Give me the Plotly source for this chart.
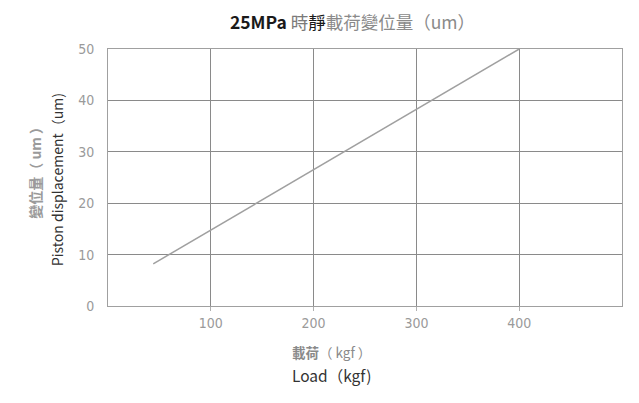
import plotly.graph_objects as go

load_kgf = [44, 400]
displacement_um = [8.2, 50]
x_ticks = [100, 200, 300, 400]
y_ticks = [0, 10, 20, 30, 40, 50]

grid = "#8a8a8a"
tickfont = dict(family="Liberation Sans Narrow, DejaVu Sans Condensed, sans-serif", size=14, color="#9a9a9a")

fig = go.Figure()
fig.add_trace(go.Scatter(x=load_kgf, y=displacement_um, mode="lines",
                         line=dict(color="#a0a0a0", width=1.5), showlegend=False))

fig.update_layout(
    width=631, height=395,
    margin=dict(l=100, r=17, t=41, b=97),
    paper_bgcolor="white", plot_bgcolor="white",
    title=dict(
        text=("<b>25MPa</b> <span style='color:#7a7a7a'>時</span>靜"
              "<span style='color:#8a8a8a'>載荷變位量（um）</span>"),
        x=0.546, xanchor="center", y=0.962, yanchor="middle",
        font=dict(family="Noto Sans CJK TC, Noto Sans, sans-serif", size=17.5, color="#1a1a1a"),
    ),
    xaxis=dict(range=[0, 500], tickvals=x_ticks, showgrid=True, gridcolor=grid, gridwidth=1,
               zeroline=False, showline=True, linecolor="#a0a0a0", mirror=True,
               ticks="outside", ticklen=4, tickcolor="#b0b0b0", tickfont=tickfont,
               fixedrange=True),
    yaxis=dict(range=[0, 50], tickvals=y_ticks, showgrid=True, gridcolor=grid, gridwidth=1,
               zeroline=False, showline=True, linecolor="#a0a0a0", mirror=True,
               ticks="", tickfont=tickfont, ticklabelstandoff=10, fixedrange=True),
)

fig.add_annotation(text="<b>變位量（ um ）</b>", xref="paper", yref="paper", x=-0.142, y=0.53,
                   textangle=-90, showarrow=False, xanchor="center", yanchor="middle",
                   font=dict(family="Noto Sans CJK TC, sans-serif", size=14, color="#9a9a9a"))
fig.add_annotation(text="Piston displacement（um)", xref="paper", yref="paper", x=-0.099, y=0.49,
                   textangle=-90, showarrow=False, xanchor="center", yanchor="middle",
                   font=dict(family="Noto Sans CJK TC, Noto Sans, sans-serif", size=14, color="#333333"))
fig.add_annotation(text="<b>載荷</b>（ kgf ）", xref="paper", yref="paper", x=0.434, y=-0.179,
                   showarrow=False, xanchor="center", yanchor="middle",
                   font=dict(family="Noto Sans CJK TC, sans-serif", size=13.5, color="#8a8a8a"))
fig.add_annotation(text="Load（kgf)", xref="paper", yref="paper", x=0.434, y=-0.27,
                   showarrow=False, xanchor="center", yanchor="middle",
                   font=dict(family="Noto Sans CJK TC, Noto Sans, sans-serif", size=15.5, color="#333333"))

fig.write_html("out.html")
